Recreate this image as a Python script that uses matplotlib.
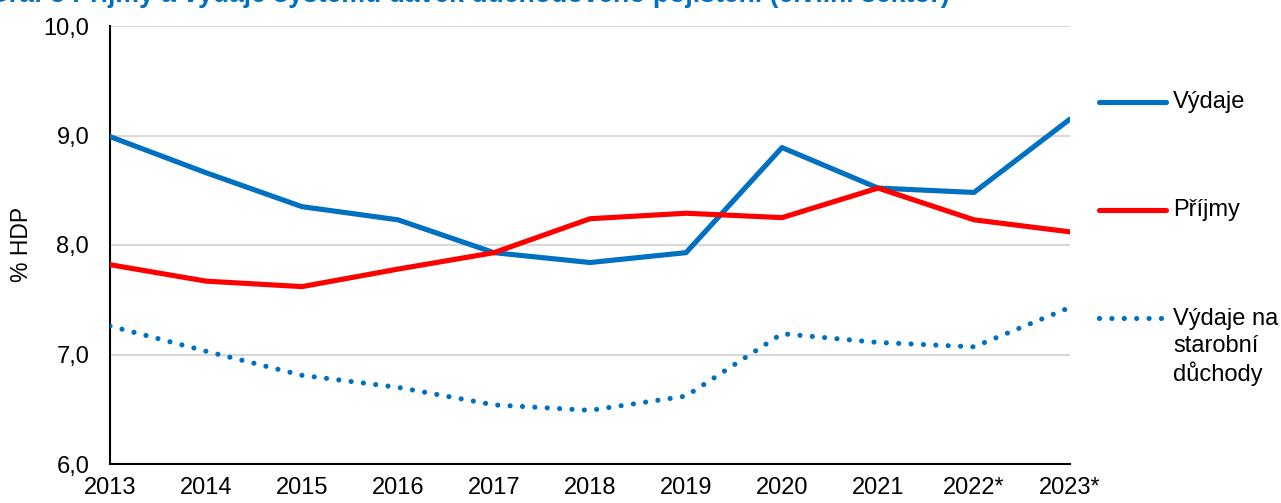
import matplotlib
matplotlib.use("Agg")
import matplotlib.pyplot as plt
import numpy as np

years = ["2013", "2014", "2015", "2016", "2017", "2018", "2019", "2020", "2021", "2022*", "2023*"]
vydaje = [8.99, 8.66, 8.35, 8.23, 7.93, 7.84, 7.93, 8.89, 8.52, 8.48, 9.15]
prijmy = [7.82, 7.67, 7.62, 7.78, 7.93, 8.24, 8.29, 8.25, 8.52, 8.23, 8.12]
starobni = [7.26, 7.03, 6.81, 6.70, 6.54, 6.49, 6.62, 7.19, 7.11, 7.07, 7.43]
yticks = [6.0, 7.0, 8.0, 9.0, 10.0]

plt.rcParams['font.family'] = ['Liberation Sans', 'DejaVu Sans']

BLUE = '#0070C0'
RED = '#FF0000'
W, H = 1281, 503
fig = plt.figure(figsize=(W / 100, H / 100), dpi=100)
ax = fig.add_axes([110 / W, 1 - 464 / H, (1070 - 110) / W, (464 - 26) / H])

FS = 17
x = np.arange(len(years))
lw = 3.7
ax.plot(x, vydaje, color=BLUE, lw=lw, solid_capstyle='round', solid_joinstyle='round', zorder=3)
ax.plot(x, prijmy, color=RED, lw=lw, solid_capstyle='round', solid_joinstyle='round', zorder=3)
ax.plot(x, starobni, color=BLUE, lw=lw, linestyle=(0, (0.01, 2.4)), dash_capstyle='round', zorder=3)

ax.set_xlim(0, len(years) - 1)
ax.set_ylim(6, 10)
ax.set_yticks(yticks)
ax.set_yticklabels([f"{v:.1f}".replace('.', ',') for v in yticks])
ax.set_xticks(x)
ax.set_xticklabels(years)
ax.tick_params(axis='both', length=0, labelsize=FS, colors='black')
ax.tick_params(axis='y', pad=15)
ax.tick_params(axis='x', pad=9)
ax.grid(axis='y', color='#D9D9D9', lw=1.5)
ax.set_axisbelow(True)
for s in ['top', 'right']:
    ax.spines[s].set_visible(False)
ax.spines['left'].set_linewidth(1.5)
ax.spines['bottom'].set_linewidth(1.5)
fig.text(22 / W, 1 - 244 / H, '% HDP', fontsize=16.5, rotation=90, va='center', ha='center')

# legend on the right
def lx(px):
    return px / W
def ly(py):
    return 1 - py / H

fig.add_artist(plt.Line2D([lx(1099), lx(1166)], [ly(102), ly(102)], color=BLUE, lw=lw, solid_capstyle='round'))
fig.text(lx(1173), ly(102), 'Výdaje', fontsize=FS, va='center', ha='left')
fig.add_artist(plt.Line2D([lx(1099), lx(1166)], [ly(210), ly(210)], color=RED, lw=lw, solid_capstyle='round'))
fig.text(lx(1173), ly(210), 'Příjmy', fontsize=FS, va='center', ha='left')
fig.add_artist(plt.Line2D([lx(1099), lx(1162)], [ly(318), ly(318)], color=BLUE, lw=lw,
                          linestyle=(0, (0.01, 2.4)), dash_capstyle='round'))
fig.text(lx(1173), ly(308), 'Výdaje na\nstarobní\ndůchody', fontsize=FS, va='top', ha='left', linespacing=1.27)

fig.text(lx(950), ly(2.5), 'Graf 3 Příjmy a výdaje systému dávek důchodového pojištění (civilní sektor)',
         fontsize=19.2, fontweight='bold', color=BLUE, va='baseline', ha='right')

fig.savefig('out.png', dpi=100)
